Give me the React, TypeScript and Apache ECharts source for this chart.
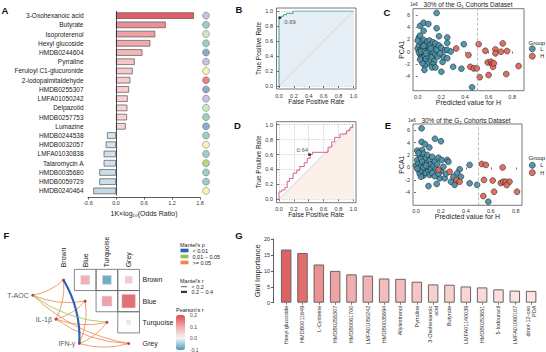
import React, { useEffect, useRef } from "react";
import * as echarts from "echarts";

const FONT = "'Liberation Sans', Arial, Helvetica, sans-serif";

// ---------- Panel A ----------
const aNames = ["3-Oxohexanoic acid", "Butyrate", "Isoproterenol", "Hexyl glucoside", "HMDB0244604", "Pyrraline", "Feruloyl C1-glucuronide", "2-iodopalmitaldehyde", "HMDB0255307", "LMFA01050242", "Delpazolid", "HMDB0257753", "Lumazine", "HMDB0244538", "HMDB0032057", "LMFA01030838", "Talaromycin A", "HMDB0035680", "HMDB0059729", "HMDB0240464"];
const aValues = [1.67, 1.065, 0.84, 0.735, 0.565, 0.4, 0.357, 0.307, 0.279, 0.25, 0.243, 0.236, 0.207, -0.193, -0.22, -0.264, -0.264, -0.357, -0.357, -0.486];
const aDotColors = ["#b8b2d8", "#80c4b4", "#bfe0b4", "#80c4b4", "#6f96c4", "#b8b2d8", "#f7f1a2", "#e3675a", "#6f96c4", "#b8b2d8", "#bfe0b4", "#80c4b4", "#6f96c4", "#80c4b4", "#f7f1a2", "#80c4b4", "#a5cf5a", "#80c4b4", "#80c4b4", "#f7f1a2"];
const aTicks = [-0.6, 0, 0.6, 1.2, 1.8];
const aXName = "1K×log₁₀(Odds Ratio)";

// ---------- Panels B / D (ROC) ----------
const rocTicks = [0, 0.2, 0.4, 0.6, 0.8, 1];
const bFpr = [0, 0, 0.03, 0.03, 0.06, 0.06, 0.1, 0.1, 0.19, 0.19, 1];
const bTpr = [0, 0.91, 0.91, 0.93, 0.93, 0.95, 0.95, 0.97, 0.97, 1, 1];
const bCut = [0.01, 0.91];
const bCutLabel = "0.69";
const bAuc = "AUC: 0.98";
const bCi = "95% CI: [0.98, 0.99]";

const dFpr = [0, 0, 0.036, 0.036, 0.08, 0.08, 0.11, 0.11, 0.14, 0.14, 0.19, 0.19, 0.24, 0.24, 0.28, 0.28, 0.34, 0.34, 0.38, 0.38, 0.42, 0.42, 0.45, 0.45, 0.66, 0.66, 0.71, 0.71, 0.75, 0.75, 0.82, 0.82, 0.91, 0.91, 0.955, 0.955, 0.99, 0.99, 1];
const dTpr = [0, 0.1, 0.1, 0.125, 0.125, 0.16, 0.16, 0.24, 0.24, 0.28, 0.28, 0.35, 0.35, 0.39, 0.39, 0.44, 0.44, 0.49, 0.49, 0.55, 0.55, 0.6, 0.6, 0.63, 0.63, 0.7, 0.7, 0.77, 0.77, 0.83, 0.83, 0.875, 0.875, 0.92, 0.92, 0.96, 0.96, 1, 1];
const dCut = [0.41, 0.6];
const dCutLabel = "0.64";
const dAuc = "AUC: 0.61";
const dCi = "95% CI: [0.48, 0.61]";

// ---------- Panels C / E (PCA scatter) ----------
const pcaXTicks = [0, 0.2, 0.4, 0.6, 0.8];
const pcaYTicks = [-4, -2, 0, 2, 4, 6];
const cutoff = 0.5;
const cTitle = "30% of the G₁ Cohorts Dataset";
const eTitle = "30% of the G₂ Cohorts Dataset";
const cLow = [[0.16, 6.3], [0.02, 4.2], [0.05, 4.7], [0.09, 4.5], [0.05, 3.4], [0.16, 3.8], [0.01, 2.3], [0.18, 2.5], [0.25, 2.3], [0.39, 1.2], [0.25, 1.4],
  [0.0, 0.5], [0.01, 1.0], [0.02, 0.2], [0.02, -0.5], [0.03, 1.5], [0.03, -1.0], [0.04, 0.8], [0.04, -0.2], [0.05, 1.9], [0.05, 0.3], [0.05, -1.5], [0.06, 1.2], [0.06, -0.6], [0.07, 0.6], [0.07, -1.2], [0.08, 1.6], [0.08, 0.0], [0.08, -2.0], [0.09, 0.9], [0.09, -0.8], [0.1, 1.8], [0.1, 0.4], [0.1, -0.3], [0.11, -1.4], [0.11, 1.1], [0.12, 0.2], [0.12, -0.9], [0.13, 1.5], [0.13, -0.1], [0.14, 0.7], [0.14, -1.6], [0.15, 1.3], [0.15, -0.5], [0.06, -2.3], [0.04, -1.9], [0.02, -1.3], [0.01, -0.1], [0.03, 0.0], [0.06, 0.0], [0.09, 0.1], [0.07, -0.3], [0.05, 0.9], [0.11, 0.5], [0.13, -2.1], [0.16, 0.3], [0.17, -0.8], [0.18, 1.0], [0.19, -0.3], [0.2, 0.6], [0.21, -1.7], [0.22, -0.9], [0.23, 0.2], [0.25, 0.25], [0.25, -1.1], [0.28, 0.0],
  [0.057, -3.0], [0.12, -2.6], [0.15, -2.6], [0.2, -3.3], [0.3, -2.5], [0.37, -2.8], [0.46, -5.85], [0.0, 1.8], [0.02, 2.6]];
const cHigh = [[0.326, 0.5], [0.43, -0.58], [0.445, -2.5], [0.474, -2.75], [0.5, -2.75], [0.516, 1.2], [0.525, -4.2], [0.573, 0.13], [0.593, -1.78], [0.62, -1.66], [0.63, -2.04], [0.638, -2.5], [0.644, -1.93], [0.6, -3.84], [0.658, 0.35], [0.658, -0.3], [0.706, -0.03], [0.72, 1.33], [0.757, 0.07], [0.75, -3.68], [0.854, -2.37]];
const eLow = [[0.045, 6.27], [0.045, 4.1], [0.072, 3.75], [0.107, 3.2], [0.152, 4.6], [0.2, 4.2], [0.027, 2.5], [0.01, 2.7], [0.05, 2.8], [0.18, 1.56], [0.206, 1.2], [0.25, 1.2], [0.26, 0.9], [0.43, 0.4], [0.35, -0.3], [0.33, -0.95], [0.19, -1.75], [0.23, -1.75], [0.28, -2.3], [0.33, -2.1], [0.31, -2.8], [0.166, -2.65], [0.1, -3.0], [0.43, -2.55], [0.49, -2.8], [0.58, -5.5], [0.36, -1.5], [0.3, -1.5],
  [0.0, 0.3], [0.01, 1.2], [0.02, -0.4], [0.02, 0.6], [0.03, 1.9], [0.03, -1.0], [0.04, 0.2], [0.04, 1.4], [0.05, -0.6], [0.05, 0.9], [0.06, 2.2], [0.06, -1.3], [0.07, 0.4], [0.07, -0.2], [0.08, 1.6], [0.08, -0.9], [0.09, 0.7], [0.09, 2.0], [0.1, -0.5], [0.1, 0.1], [0.11, 1.1], [0.11, -1.2], [0.12, 0.5], [0.12, -0.3], [0.13, 1.7], [0.13, -0.9], [0.14, 0.2], [0.15, -1.4], [0.15, 0.9], [0.16, -0.2], [0.17, 0.5], [0.04, -1.5], [0.01, -0.2], [0.06, 0.0], [0.02, 2.3], [0.08, 0.3], [0.2, -0.6], [0.22, 0.1], [0.24, -1.0], [0.18, -1.0]];
const eHigh = [[0.18, -0.4], [0.27, -0.7], [0.325, -2.0], [0.35, -2.3], [0.527, 0.55], [0.56, 0.4], [0.545, -2.0], [0.54, -4.6], [0.615, -2.1], [0.626, -3.9], [0.68, -2.5], [0.7, -2.3], [0.72, -2.3], [0.75, -2.3], [0.727, -2.83], [0.695, 0.0], [0.81, -3.9]];

// ---------- Panel F ----------
const fCols = ["Brown", "Blue", "Turquoise", "Grey"];
const fCells = [[1, 0, 0.11], [2, 0, -0.11], [3, 0, 0.07], [2, 1, 0.13], [3, 1, 0.2], [3, 2, -0.01]];
const fEnv = ["T-AOC", "IL-1β", "IFN-γ"];
const fEnvPos = [[-1.42, 0.72], [-0.35, 1.85], [0.73, 3.0]];
const mantelFrom = [0, 0, 0, 0, 1, 1, 1, 1, 2, 2, 2, 2];
const mantelTo = [0, 1, 2, 3, 0, 1, 2, 3, 0, 1, 2, 3];
const mantelP = [2, 2, 1, 2, 2, 2, 2, 2, 0, 2, 2, 2];
const mantelR = [0, 0, 0, 0, 0, 0, 0, 0, 1, 0, 0, 0];
const mantelPNames = ["< 0.01", "0.01 − 0.05", ">= 0.05"];
const mantelPColors = ["#2f62b5", "#93c256", "#f08648"];
const mantelRNames = ["< 0.2", "0.2 − 0.4"];
const mantelRWidths = [0.8, 2.2];
const pearsonTicks = [0.2, 0.1, 0.0, -0.1];
const pearsonColors = ["#4f98b9", "#f4f5f5", "#f0a8ad", "#dd4c55"];

// ---------- Panel G ----------
const gNames = ["Hexyl glucoside", "HMDB0011649", "L-Cysteine", "HMDB0255307", "HMDB0061700", "LMFA01050242", "HMDB0035694", "Allylestrenol", "Pyrraline", "3-Oxohexanoic\nacid", "Butyrate", "LMFA01140039", "HMDB0253651", "5-Iodouracil", "LMFA01060107", "dinor-12-oxo\nPDA"];
const gValues = [16.7, 15.6, 12.0, 10.0, 8.9, 8.5, 7.6, 7.5, 6.6, 5.75, 5.65, 5.1, 4.8, 4.2, 3.8, 3.7];
const gTicks = [0, 5, 10, 15, 20];

function rgb(h: string) {
  const n = parseInt(h.slice(1), 16);
  return [(n >> 16) & 255, (n >> 8) & 255, n & 255];
}
function mix(a: string, b: string, t: number) {
  const A = rgb(a), B = rgb(b);
  const tt = Math.max(0, Math.min(1, t));
  return `rgb(${A.map((v, i) => Math.round(v + (B[i] - v) * tt)).join(",")})`;
}

const tick = { fontSize: 5.5, color: "#333", fontFamily: FONT, interval: 0, hideOverlap: false };
const nameStyle = { fontSize: 6.5, color: "#222", fontFamily: FONT };
const axisColor = "#333";

function hiddenAxis(gridIndex: number) {
  return { gridIndex, type: "value", show: false, min: 0, max: 1 };
}

function rocAxes(gridIndex: number) {
  const x = {
    gridIndex, type: "value", min: 0, max: 1, interval: 0.2, offset: 3,
    axisLine: { show: false },
    axisTick: { show: true, length: 2, customValues: rocTicks, lineStyle: { color: axisColor, width: 0.7 } },
    axisLabel: { ...tick, margin: 3.5, customValues: rocTicks, showMinLabel: true, showMaxLabel: true, formatter: (v: number) => v.toFixed(1) },
    splitLine: { show: true, lineStyle: { color: "#9a9a9a", width: 0.6, type: [1, 1.5] } },
    name: "False Positive Rate", nameLocation: "middle", nameGap: 9, nameMoveOverlap: false, nameTextStyle: nameStyle,
  };
  const y = {
    gridIndex, type: "value", min: 0, max: 1, interval: 0.2, offset: 2.5,
    axisLine: { show: false },
    axisTick: { show: true, length: 2, customValues: rocTicks, lineStyle: { color: axisColor, width: 0.7 } },
    axisLabel: { ...tick, margin: 3.5, customValues: rocTicks, showMinLabel: true, showMaxLabel: true, formatter: (v: number) => v.toFixed(1) },
    splitLine: { show: true, lineStyle: { color: "#9a9a9a", width: 0.6, type: [1, 1.5] } },
    name: "True Positive Rate", nameLocation: "middle", nameGap: 15, nameMoveOverlap: false, nameTextStyle: nameStyle,
  };
  return { x, y };
}

function pcaAxes(gridIndex: number, xmin: number, xmax: number, ymin: number, ymax: number) {
  const x = {
    gridIndex, type: "value", min: xmin, max: xmax,
    axisLine: { show: false },
    axisTick: { show: true, length: 2, customValues: pcaXTicks, lineStyle: { color: axisColor, width: 0.7 } },
    axisLabel: { ...tick, margin: 3, customValues: pcaXTicks, formatter: (v: number) => v.toFixed(1) },
    splitLine: { show: false },
    name: "Predicted value for H", nameLocation: "middle", nameGap: 8, nameMoveOverlap: false, nameTextStyle: { ...nameStyle, fontSize: 7 },
  };
  const y = {
    gridIndex, type: "value", min: ymin, max: ymax,
    axisLine: { show: false },
    axisTick: { show: true, length: 2, customValues: pcaYTicks, lineStyle: { color: axisColor, width: 0.7 } },
    axisLabel: { ...tick, margin: 3, customValues: pcaYTicks, formatter: (v: number) => String(v) },
    splitLine: { show: false },
    name: "PCA1", nameLocation: "middle", nameGap: 8, nameMoveOverlap: false, nameTextStyle: { ...nameStyle, fontSize: 7 },
  };
  return { x, y };
}

function rocSeries(axis: number, fpr: number[], tpr: number[], cut: number[], cutLabel: string, lineColor: string, areaColor: string, diagArea: string | null, labelPos: number[]) {
  const pts = fpr.map((x, i) => [x, tpr[i]]);
  return [
    { type: "line", xAxisIndex: axis, yAxisIndex: axis, data: pts, symbol: "none", lineStyle: { width: 0 }, areaStyle: { color: areaColor, opacity: 1 }, z: 2, silent: true },
    { type: "line", xAxisIndex: axis, yAxisIndex: axis, data: [[0, 0], [1, 1]], symbol: "none", lineStyle: { color: "#bdbdbd", width: 0.6 }, areaStyle: diagArea ? { color: diagArea, opacity: 1 } : undefined, z: 3, silent: true },
    { type: "line", xAxisIndex: axis, yAxisIndex: axis, data: pts, symbol: "none", lineStyle: { color: lineColor, width: 1 }, z: 4, silent: true },
    { type: "scatter", xAxisIndex: axis, yAxisIndex: axis, data: [cut], symbolSize: 3, itemStyle: { color: "#111" }, z: 5, label: { show: true, formatter: cutLabel, position: labelPos, fontFamily: FONT, fontSize: 6, color: "#222" } },
  ];
}

function pcaSeries(axis: number, low: number[][], high: number[][]) {
  return [
    { type: "scatter", name: "L", xAxisIndex: axis, yAxisIndex: axis, data: low, symbolSize: 5.8, itemStyle: { color: "#4891ab", borderColor: "#222", borderWidth: 0.6, opacity: 0.95 }, z: 3 },
    {
      type: "scatter", name: "H", xAxisIndex: axis, yAxisIndex: axis, data: high, symbolSize: 5.8, itemStyle: { color: "#e2675b", borderColor: "#222", borderWidth: 0.6, opacity: 0.95 }, z: 3,
      markLine: { silent: true, symbol: "none", label: { show: false }, lineStyle: { color: "#aaa", width: 0.8, type: [3, 2] }, data: [{ xAxis: cutoff }] },
    },
  ];
}

const letter = (t: string, x: number, y: number) => ({ type: "text", x, y, style: { text: t, fontSize: 9.5, fontWeight: "bold", fontFamily: FONT, fill: "#111", align: "center", verticalAlign: "middle" } });
const txt = (t: string, x: number, y: number, size: number, align = "left", fill = "#222") => ({ type: "text", x, y, style: { text: t, fontSize: size, fontFamily: FONT, fill, align, verticalAlign: "middle" } });

function buildGraphic() {
  const graphic: any[] = [
    letter("A", 5, 10), letter("B", 239, 9), letter("C", 387, 12), letter("D", 237.5, 125), letter("E", 388, 125), letter("F", 6.5, 235), letter("G", 239, 235),
    txt(bAuc, 321.5, 66.7, 6, "center"), txt(bCi, 322.5, 75, 6, "center"),
    txt(dAuc, 321.5, 181.5, 6, "center"), txt(dCi, 322.5, 189, 6, "center"),
    txt(cTitle, 468, 4.7, 6.5, "center"), txt(eTitle, 466, 120, 6.5, "center"),
    txt("1e6", 414, 4.5, 4.5, "center"), txt("1e6", 412, 120.5, 4.5, "center"),
    txt("Group", 528.5, 42.5, 6), txt("Group", 528.5, 158.3, 6),
    txt("Mantel's p", 180, 244.5, 5.5),
    txt("Mantel's r", 180, 281, 5.5),
    txt("Pearson's r", 176, 310, 5.5),
    txt(aXName, 144, 213, 7, "center"),
  ];
  mantelRNames.forEach((n, i) => {
    const y = 286.7 + i * 5.2;
    graphic.push({ type: "line", shape: { x1: 181, y1: y, x2: 187, y2: y }, style: { stroke: "#333", lineWidth: mantelRWidths[i] } });
    graphic.push(txt(n, 191.5, y, 5.5));
  });
  pearsonTicks.forEach((v) => {
    graphic.push(txt(v.toFixed(1), 190, 315 + ((0.2 - v) / 0.3) * 35, 5, "left", "#444"));
  });
  return graphic;
}

function buildOption() {
  const B = rocAxes(3);
  const D = rocAxes(6);
  const C = pcaAxes(4, -0.04, 0.9, -6.4, 7);
  const E = pcaAxes(7, -0.024, 0.85, -6.08, 6.97);

  const aColor = (v: number) => (v >= 0 ? mix("#fde6e6", "#e35d66", v / 1.67) : mix("#e2eef4", "#c2d8e4", -v / 0.5));
  const gMin = Math.min(...gValues), gMax = Math.max(...gValues);
  const gColor = (v: number) => mix("#fde3e3", "#df6262", (v - gMin) / (gMax - gMin));

  const series: any[] = [];
  // A
  series.push({
    type: "bar", xAxisIndex: 0, yAxisIndex: 0, barWidth: 6.5,
    data: aValues.map((v) => ({ value: v, itemStyle: { color: aColor(v) } })),
    itemStyle: { borderColor: "#555", borderWidth: 0.7 },
    markLine: { silent: true, symbol: "none", label: { show: false }, lineStyle: { color: "#222", width: 0.8, type: "solid" }, data: [{ xAxis: 0 }] },
  });
  series.push({
    type: "scatter", xAxisIndex: 1, yAxisIndex: 1, symbolSize: 7,
    data: aNames.map((n, i) => ({ value: [0, n], itemStyle: { color: aDotColors[i] } })),
    itemStyle: { borderColor: "#666", borderWidth: 0.6 },
  });
  series.push(...rocSeries(3, bFpr, bTpr, bCut, bCutLabel, "#3f9a9a", "#e7eff6", null, [6, 2.7]));
  series.push(...pcaSeries(4, cLow, cHigh));
  series.push(...rocSeries(6, dFpr, dTpr, dCut, dCutLabel, "#d0609a", "#ffffff", "#fbf0ea", [-11.5, -6]));
  series.push(...pcaSeries(7, eLow, eHigh));
  // F boxes
  series.push({
    type: "custom", xAxisIndex: 8, yAxisIndex: 8, data: fCells.map((d) => [d[0], d[1]]), z: 2, silent: true,
    renderItem: (_p: any, api: any) => {
      const c = api.value(0), r = api.value(1);
      const p0 = api.coord([c - 0.5, r - 0.5]);
      const p1 = api.coord([c + 0.5, r + 0.5]);
      return {
        type: "rect",
        shape: { x: Math.min(p0[0], p1[0]), y: Math.min(p0[1], p1[1]), width: Math.abs(p1[0] - p0[0]), height: Math.abs(p1[1] - p0[1]) },
        style: { fill: "none", stroke: "#6a6a6a", lineWidth: 0.8 },
      };
    },
  });
  const matrixIndex = series.length;
  series.push({
    type: "scatter", xAxisIndex: 8, yAxisIndex: 8, symbol: "rect", data: fCells, z: 3,
    symbolSize: (val: number[]) => 3 + 52 * Math.abs(val[2]),
    itemStyle: { borderColor: "#c8c8c8", borderWidth: 0.5 },
  });
  mantelPNames.forEach((pname, pi) => {
    const data: any[] = [];
    mantelFrom.forEach((f, k) => {
      if (mantelP[k] !== pi) return;
      data.push({ coords: [fEnvPos[f], [mantelTo[k], mantelTo[k]]], lineStyle: { width: mantelRWidths[mantelR[k]] } });
    });
    series.push({
      type: "lines", name: pname, coordinateSystem: "cartesian2d", xAxisIndex: 8, yAxisIndex: 8, data,
      lineStyle: { color: mantelPColors[pi], opacity: 1, curveness: -0.15, width: 0.8 }, z: pi === 2 ? 3 : 4, silent: true,
    });
  });
  series.push({
    type: "scatter", xAxisIndex: 8, yAxisIndex: 8, symbolSize: 3, z: 6,
    data: fCols.map((_c, i) => [i, i]), itemStyle: { color: "#a3224f" },
  });
  series.push({
    type: "scatter", xAxisIndex: 8, yAxisIndex: 8, symbolSize: 3, z: 6,
    data: fEnv.map((n, i) => ({ value: fEnvPos[i], name: n })), itemStyle: { color: "#a3224f" },
    label: { show: true, position: "left", distance: 2.5, formatter: (p: any) => p.name, fontSize: 7, color: "#222", fontFamily: FONT },
  });
  // G
  series.push({
    type: "bar", xAxisIndex: 9, yAxisIndex: 9, barWidth: 10.5,
    data: gValues.map((v) => ({ value: v, itemStyle: { color: gColor(v) } })),
    itemStyle: { borderColor: "#666", borderWidth: 1 },
  });

  const legendText = { fontSize: 5.5, color: "#222", fontFamily: FONT };

  return {
    animation: false,
    backgroundColor: "#ffffff",
    textStyle: { fontFamily: FONT },
    grid: [
      { left: 88, top: 11, width: 112, height: 184.5 },
      { left: 202, top: 11, width: 8, height: 184.5 },
      { left: 276.5, top: 8, width: 79.5, height: 81, show: true, borderColor: "#555", borderWidth: 0.8, backgroundColor: "transparent" },
      { left: 279, top: 11, width: 74.5, height: 75 },
      { left: 413, top: 8.7, width: 111, height: 82, show: true, borderColor: "#555", borderWidth: 0.8, backgroundColor: "transparent" },
      { left: 276.5, top: 121.7, width: 79.5, height: 81, show: true, borderColor: "#555", borderWidth: 0.8, backgroundColor: "transparent" },
      { left: 279, top: 124.7, width: 74.3, height: 74.6 },
      { left: 413, top: 124, width: 109, height: 81.3, show: true, borderColor: "#555", borderWidth: 0.8, backgroundColor: "transparent" },
      { left: 0.57, top: 269.35, width: 138.9, height: 83.07 },
      { left: 278, top: 239, width: 261.3, height: 63.7 },
    ],
    xAxis: [
      {
        gridIndex: 0, type: "value", min: aTicks[0], max: aTicks[aTicks.length - 1], interval: 0.6, offset: 2,
        axisLine: { show: true, lineStyle: { color: axisColor, width: 0.8 } },
        axisTick: { show: true, length: 2, customValues: aTicks, lineStyle: { color: axisColor, width: 0.8 } },
        axisLabel: { show: false },
        splitLine: { show: false },
      },
      { gridIndex: 1, type: "value", show: false, min: -1, max: 1 },
      hiddenAxis(2),
      B.x,
      C.x,
      hiddenAxis(5),
      D.x,
      E.x,
      {
        gridIndex: 8, type: "value", min: -2.9, max: 3.5, position: "top",
        axisLine: { show: false }, axisTick: { show: false }, splitLine: { show: false },
        axisLabel: { customValues: [0, 1, 2, 3], interval: 0, hideOverlap: false, formatter: (v: number) => fCols[Math.round(v)] || "", rotate: 90, fontSize: 7, color: "#222", margin: 2, fontFamily: FONT },
      },
      {
        gridIndex: 9, type: "category", data: gNames,
        axisLine: { show: false },
        axisTick: { show: true, length: 2, alignWithLabel: true, lineStyle: { color: axisColor, width: 0.7 } },
        axisLabel: { ...tick, rotate: 90, margin: 3, lineHeight: 6 },
      },
    ],
    yAxis: [
      {
        gridIndex: 0, type: "category", data: aNames, inverse: true,
        axisLine: { show: false }, axisTick: { show: false },
        axisLabel: { fontSize: 6.5, color: "#222", margin: 4.5, fontFamily: FONT, interval: 0, hideOverlap: false },
      },
      { gridIndex: 1, type: "category", data: aNames, inverse: true, show: false },
      hiddenAxis(2),
      B.y,
      C.y,
      hiddenAxis(5),
      D.y,
      E.y,
      {
        gridIndex: 8, type: "value", min: -0.5, max: 3.4, inverse: true, position: "right",
        axisLine: { show: false }, axisTick: { show: false }, splitLine: { show: false },
        axisLabel: { customValues: [0, 1, 2, 3], interval: 0, hideOverlap: false, formatter: (v: number) => fCols[Math.round(v)] || "", fontSize: 7, color: "#222", margin: 3, fontFamily: FONT },
      },
      {
        gridIndex: 9, type: "value", min: gTicks[0], max: gTicks[gTicks.length - 1], interval: 5, offset: 5,
        axisLine: { show: true, lineStyle: { color: axisColor, width: 0.8 } },
        axisTick: { show: true, length: 2, customValues: gTicks, lineStyle: { color: axisColor, width: 0.8 } },
        axisLabel: { ...tick, margin: 3, customValues: gTicks, showMinLabel: true, showMaxLabel: true },
        splitLine: { show: false },
        name: "Gini Importance", nameLocation: "middle", nameGap: 12, nameMoveOverlap: false, nameTextStyle: { ...nameStyle, fontSize: 7.5 },
      },
    ],
    visualMap: [
      {
        type: "continuous", seriesIndex: matrixIndex, dimension: 2, min: -0.1, max: 0.2,
        inRange: { color: pearsonColors }, calculable: false, orient: "vertical",
        left: 176, top: 315, itemWidth: 9, itemHeight: 35, padding: 0, text: ["", ""], textGap: 0,
        textStyle: { fontSize: 1 }, hoverLink: false,
      },
    ],
    legend: [
      {
        data: mantelPNames.map((n, i) => ({ name: n, itemStyle: { color: mantelPColors[i] } })),
        orient: "vertical", left: 180.5, top: 247.5, itemWidth: 6, itemHeight: 1.6, itemGap: 0, padding: 0,
        icon: "rect", selectedMode: false, textStyle: { ...legendText, lineHeight: 5.4 },
      },
      {
        data: [{ name: "L", itemStyle: { color: "#4891ab", borderColor: "#222", borderWidth: 0.6 } }, { name: "H", itemStyle: { color: "#e2675b", borderColor: "#222", borderWidth: 0.6 } }],
        orient: "vertical", left: 529, top: 45.5, itemWidth: 6, itemHeight: 6, itemGap: 0.8, padding: 0,
        icon: "circle", selectedMode: false, textStyle: legendText,
      },
      {
        data: [{ name: "L", itemStyle: { color: "#4891ab", borderColor: "#222", borderWidth: 0.6 } }, { name: "H", itemStyle: { color: "#e2675b", borderColor: "#222", borderWidth: 0.6 } }],
        orient: "vertical", left: 529, top: 162, itemWidth: 6, itemHeight: 6, itemGap: 0.8, padding: 0,
        icon: "circle", selectedMode: false, textStyle: legendText,
      },
    ],
    graphic: buildGraphic(),
    series,
  };
}

export default function App() {
  const ref = useRef<HTMLDivElement>(null);
  useEffect(() => {
    if (!ref.current) return;
    const chart = echarts.init(ref.current, undefined, { renderer: "svg" });
    chart.setOption(buildOption() as any);
    // Panel A tick labels, placed through the axis scale of grid 0
    const axisY = 197.5;
    const labels = aTicks.map((v) => {
      const px = chart.convertToPixel({ xAxisIndex: 0 } as any, v) as unknown as number;
      return { type: "text", x: px, y: axisY + 5, style: { text: v.toFixed(1), fontSize: 5.5, fontFamily: FONT, fill: "#333", align: "center", verticalAlign: "middle" } };
    });
    chart.setOption({ graphic: [...buildGraphic(), ...labels] } as any);
    return () => chart.dispose();
  }, []);
  return <div ref={ref} style={{ position: "absolute", left: 0, top: 0, width: 546, height: 352, background: "#fff" }} />;
}
